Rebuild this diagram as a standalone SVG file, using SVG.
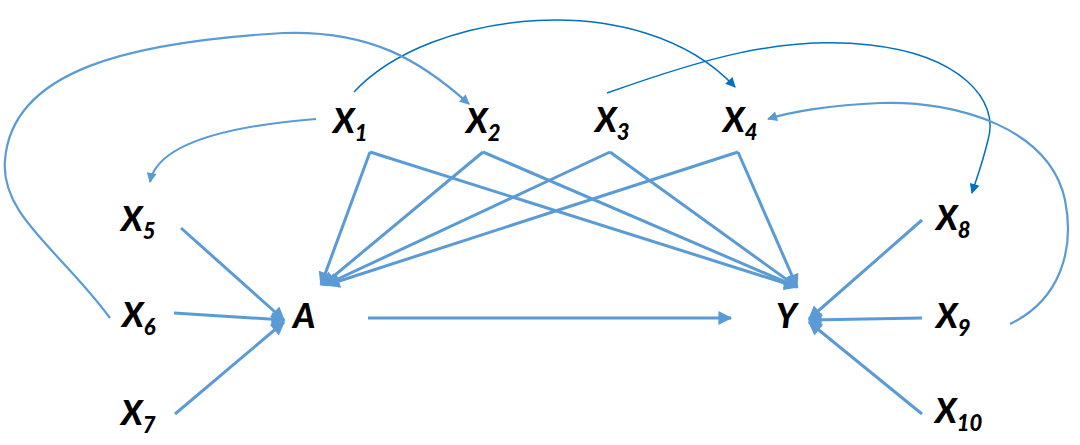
<svg xmlns="http://www.w3.org/2000/svg" width="1080" height="445" viewBox="0 0 1080 445">
<style>
.lbl{font-family:Lato,"Open Sans","Liberation Sans",sans-serif;font-weight:900;font-style:italic;font-size:34px;fill:#000}
.sub{font-size:22px}
.e{fill:none;stroke:#5B9BD5;stroke-width:3}
.c{fill:none;stroke:#5B9BD5;stroke-width:2.2}
.d{fill:none;stroke:#0070C0;stroke-width:1.5}
</style>
<defs>
<marker id="ah" viewBox="0 0 10 10" refX="9" refY="5" markerWidth="16" markerHeight="14" markerUnits="userSpaceOnUse" orient="auto"><path d="M0,0 L10,5 L0,10 z" fill="#5B9BD5"/></marker>
<marker id="ahs" viewBox="0 0 10 10" refX="9" refY="5" markerWidth="12" markerHeight="10" markerUnits="userSpaceOnUse" orient="auto"><path d="M0,0 L10,5 L0,10 z" fill="#5B9BD5"/></marker>
<marker id="ahd" viewBox="0 0 10 10" refX="9" refY="5" markerWidth="12" markerHeight="10" markerUnits="userSpaceOnUse" orient="auto"><path d="M0,0 L10,5 L0,10 z" fill="#0070C0"/></marker>
</defs>
<g id="connectors">
<line class="e" x1="370" y1="152" x2="321" y2="285" marker-end="url(#ah)"/>
<line class="e" x1="483" y1="152" x2="323" y2="285" marker-end="url(#ah)"/>
<line class="e" x1="610" y1="152" x2="325" y2="285" marker-end="url(#ah)"/>
<line class="e" x1="738" y1="152" x2="327" y2="285" marker-end="url(#ah)"/>
<line class="e" x1="370" y1="152" x2="797" y2="287" marker-end="url(#ah)"/>
<line class="e" x1="483" y1="152" x2="797" y2="287" marker-end="url(#ah)"/>
<line class="e" x1="610" y1="152" x2="797" y2="287" marker-end="url(#ah)"/>
<line class="e" x1="738" y1="152" x2="797" y2="287" marker-end="url(#ah)"/>
<line class="e" x1="181" y1="228" x2="284" y2="320" marker-end="url(#ah)"/>
<line class="e" x1="174" y1="313" x2="284" y2="320" marker-end="url(#ah)"/>
<line class="e" x1="175" y1="414" x2="284" y2="322" marker-end="url(#ah)"/>
<line class="e" x1="368" y1="318" x2="731" y2="318" marker-end="url(#ah)"/>
<line class="e" x1="922" y1="220" x2="809" y2="319" marker-end="url(#ah)"/>
<line class="e" x1="922" y1="318" x2="809" y2="320" marker-end="url(#ah)"/>
<line class="e" x1="922" y1="414" x2="809" y2="322" marker-end="url(#ah)"/>
<path class="d" d="M354,92 C430,10 640,-15 735,87" marker-end="url(#ahd)"/>
<path class="c" d="M110,318 C60,250 0,215 5,160 C12,70 130,42 283,33 C370,30 420,60 469,104" marker-end="url(#ahs)"/>
<path class="c" d="M316,119 C240,125 158,140 150,182" marker-end="url(#ahs)"/>
<path class="d" d="M607,93 C700,60 780,35 870,45 C960,55 1000,100 988,140 C982,165 976,180 972,193" marker-end="url(#ahd)"/>
<path class="c" d="M1010,324 C1060,300 1075,250 1065,200 C1050,130 960,100 880,103 C830,105 790,112 768,119" marker-end="url(#ahs)"/>
</g>
<g id="X1"><text class="lbl" x="333" y="133">X<tspan class="sub" dy="8">1</tspan></text></g>
<g id="X2"><text class="lbl" x="466" y="133">X<tspan class="sub" dy="8">2</tspan></text></g>
<g id="X3"><text class="lbl" x="595" y="132">X<tspan class="sub" dy="8">3</tspan></text></g>
<g id="X4"><text class="lbl" x="723" y="132">X<tspan class="sub" dy="8">4</tspan></text></g>
<g id="X5"><text class="lbl" x="121" y="231">X<tspan class="sub" dy="8">5</tspan></text></g>
<g id="X6"><text class="lbl" x="122" y="327">X<tspan class="sub" dy="8">6</tspan></text></g>
<g id="X7"><text class="lbl" x="121" y="425">X<tspan class="sub" dy="8">7</tspan></text></g>
<g id="A"><text class="lbl" x="293" y="328">A</text></g>
<g id="Y"><text class="lbl" x="776" y="328">Y</text></g>
<g id="X8"><text class="lbl" x="936" y="230">X<tspan class="sub" dy="8">8</tspan></text></g>
<g id="X9"><text class="lbl" x="936" y="328">X<tspan class="sub" dy="8">9</tspan></text></g>
<g id="X10"><text class="lbl" x="935" y="423">X<tspan class="sub" dy="8">10</tspan></text></g>
</svg>
